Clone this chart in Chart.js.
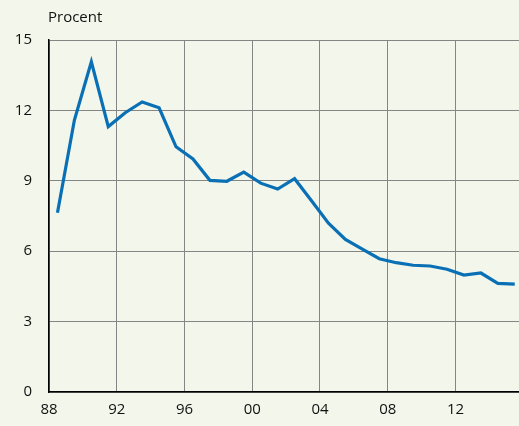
<!DOCTYPE html>
<html>
<head>
<meta charset="utf-8">
<script src="https://cdn.jsdelivr.net/npm/chart.js@4"></script>
<style>
  html, body { margin: 0; padding: 0; background: #F3F6EA; }
  #wrap { width: 519px; height: 426px; position: relative; }
</style>
</head>
<body>
<div id="wrap"><canvas id="c" width="519" height="426"></canvas></div>
<script>
const years = [1988,1989,1990,1991,1992,1993,1994,1995,1996,1997,1998,1999,2000,2001,2002,2003,2004,2005,2006,2007,2008,2009,2010,2011,2012,2013,2014,2015];
const values = [7.64,11.59,14.07,11.31,11.9,12.36,12.11,10.45,9.93,9.02,8.98,9.37,8.9,8.65,9.09,8.15,7.19,6.5,6.09,5.68,5.51,5.4,5.37,5.23,4.98,5.07,4.63,4.6];
const xTicks = [1988,1992,1996,2000,2004,2008,2012];
const yTicks = [0,3,6,9,12,15];
const unitLabel = 'Procent';

const bgPlugin = {
  id: 'bg',
  beforeDraw(chart) {
    const ctx = chart.ctx;
    ctx.save();
    ctx.fillStyle = '#F3F6EA';
    ctx.fillRect(0, 0, chart.width, chart.height);
    ctx.restore();
  },
  afterDraw(chart) {
    const ctx = chart.ctx;
    ctx.save();
    ctx.fillStyle = '#111';
    ctx.font = '15px "Open Sans", "Liberation Sans", sans-serif';
    ctx.textBaseline = 'middle';
    ctx.fillText(unitLabel, 48, 18);
    ctx.restore();
  }
};

new Chart(document.getElementById('c'), {
  type: 'line',
  data: {
    datasets: [{
      data: years.map((y, i) => ({ x: y + 0.5, y: values[i] })),
      borderColor: '#0A70B6',
      borderWidth: 3.2,
      pointRadius: 0,
      tension: 0,
      fill: false
    }]
  },
  options: {
    responsive: false,
    animation: false,
    layout: { padding: { top: 40, right: 0, left: 0, bottom: 0 } },
    plugins: { legend: { display: false }, tooltip: { enabled: false } },
    scales: {
      x: {
        type: 'linear',
        min: 1988,
        max: 2015.75,
        afterFit(s) { s.height = 34; },
        afterBuildTicks(s) { s.ticks = xTicks.map(v => ({ value: v })); },
        ticks: {
          callback: v => String(v % 100).padStart(2, '0'),
          color: '#111',
          font: { size: 15, family: '"Open Sans", "Liberation Sans", sans-serif' },
          padding: 9,
          maxRotation: 0
        },
        grid: { color: '#858585', lineWidth: 1, drawTicks: false },
        border: { color: '#000', width: 1.5 }
      },
      y: {
        min: 0,
        max: 15,
        afterFit(s) { s.width = 49; },
        afterBuildTicks(s) { s.ticks = yTicks.map(v => ({ value: v })); },
        ticks: {
          color: '#111',
          font: { size: 15, family: '"Open Sans", "Liberation Sans", sans-serif' },
          padding: 17
        },
        grid: { color: '#858585', lineWidth: 1, drawTicks: false },
        border: { color: '#000', width: 1.5 }
      }
    }
  },
  plugins: [bgPlugin]
});
</script>
</body>
</html>
